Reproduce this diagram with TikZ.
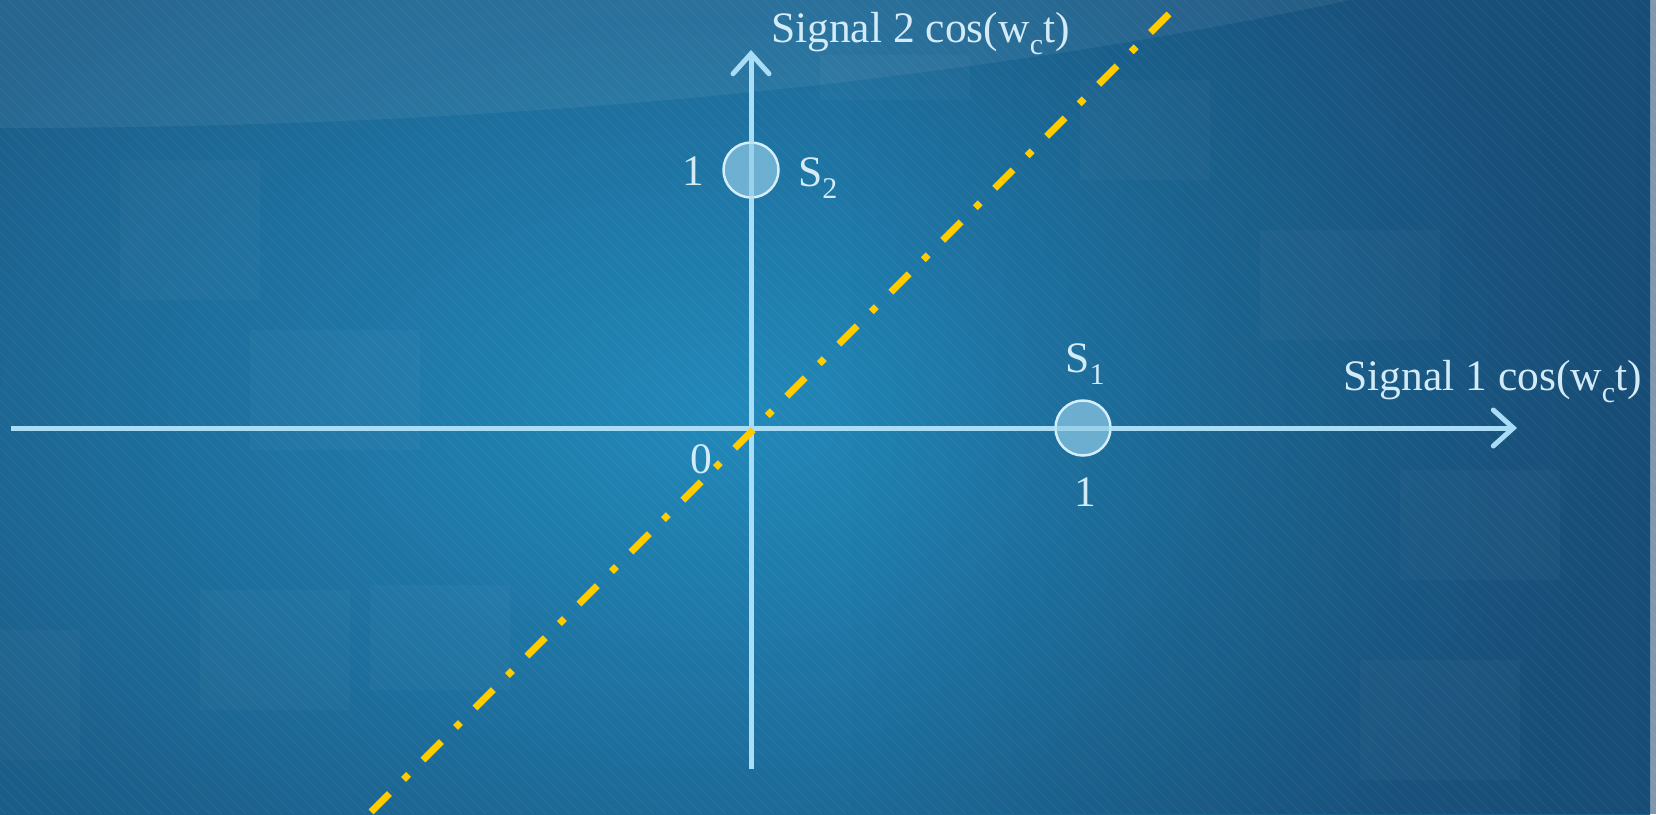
\documentclass[tikz,border=0pt]{standalone}
\usepackage{fontspec}
\setmainfont{Liberation Serif}
\usetikzlibrary{arrows.meta,fadings}
\definecolor{bgin}{HTML}{2189BA}
\definecolor{bgout}{HTML}{1B5D89}
\definecolor{bgdark}{HTML}{143F66}
\definecolor{axiscol}{HTML}{A9DDF5}
\definecolor{txtcol}{HTML}{D2EBF7}
\definecolor{ylw}{HTML}{FFCC00}
\definecolor{ptfill}{HTML}{7BBAD9}
\definecolor{ptdraw}{HTML}{D6EEF9}
\tikzfading[name=fadeleft, left color=transparent!100, right color=transparent!0]
\tikzset{
  axisline/.style={draw=axiscol, line width=5pt, -{Straight Barb[length=20pt,width=36pt,line width=5pt,line cap=round]}},
  axisplain/.style={draw=axiscol, line width=5pt},
  ptnode/.style={circle, minimum size=55pt, inner sep=0pt, fill=ptfill, fill opacity=0.85, draw=ptdraw, line width=2.5pt},
  lbl/.style={text=txtcol, font=\fontsize{43.5}{47}\selectfont, inner sep=0pt},
  yline/.style={draw=ylw, line width=7pt, dash pattern=on 26pt off 20.5pt on 7pt off 20pt, dash phase=0pt},
  softbox/.style={fill=white, opacity=0.025}
}
\newcommand{\subc}[1]{\raisebox{-0.28em}{\fontsize{30}{32}\selectfont #1}}
\begin{document}
\begin{tikzpicture}[x=1pt,y=-1pt]
\useasboundingbox (0,0) rectangle (1656,814);
% background
\shade[inner color=bgin, outer color=bgout] (-200,-150) rectangle (1650,980);
\begin{scope}
\clip (0,0) rectangle (1656,814);
\fill[bgdark, path fading=fadeleft, opacity=0.55] (850,0) rectangle (1656,814);
\fill[white, opacity=0.06] (0,0) -- (0,128) .. controls (500,128) and (950,85) .. (1350,0) -- cycle;
\fill[softbox] (120,160) rectangle (260,300);
\fill[softbox] (250,330) rectangle (420,450);
\fill[softbox] (200,590) rectangle (350,710);
\fill[softbox] (370,585) rectangle (510,690);
\fill[softbox] (820,55) rectangle (970,100);
\fill[softbox] (1080,80) rectangle (1210,180);
\fill[softbox] (1260,230) rectangle (1440,340);
\fill[softbox] (0,630) rectangle (80,760);
\fill[softbox] (1400,470) rectangle (1560,580);
\fill[softbox] (1360,660) rectangle (1520,780);
\foreach \i in {-820,-808,...,1656}{
  \draw[white, opacity=0.05, line width=1pt] (\i,0) -- (\i+814,814);
}
\end{scope}
% axes
\coordinate (xl) at (11,428);
\coordinate (xr) at (1517,428);
\coordinate (yb) at (751,769);
\coordinate (yt) at (751,50);
\coordinate (ye) at (1169,14);
\coordinate (ys) at (352,831);
\draw[axisline] (xl) -- (xr);
\draw[axisline] (yb) -- (yt);
\draw[yline] (ye) -- (ys);
% points
\node[ptnode] (s2) at (751,170) {};
\node[ptnode] (s1) at (1083,428) {};
\draw[axisplain, draw opacity=0.6] (s2.north) -- (s2.south);
\draw[axisplain, draw opacity=0.6] (s1.west) -- (s1.east);
% labels
\node[lbl, anchor=base west] (t2) at (771,42) {Signal 2 cos(w\subc{c}t)};
\node[lbl, anchor=base east] (t1) at (1642,390) {Signal 1 cos(w\subc{c}t)};
\node[lbl] (o) at (701,459) {0};
\node[lbl] (one2) at (693,171) {1};
\node[lbl] (one1) at (1085,492) {1};
\node[lbl, anchor=base west] (l2) at (798,186) {S\subc{2}};
\node[lbl, anchor=base] (l1) at (1085,372) {S\subc{1}};
\end{tikzpicture}
\end{document}
